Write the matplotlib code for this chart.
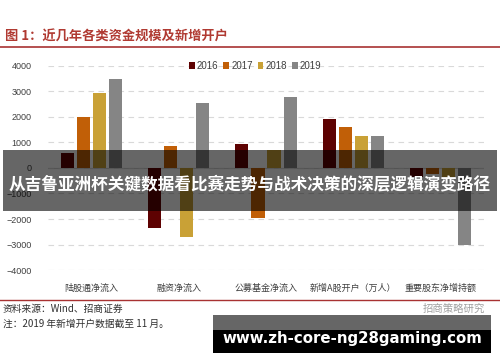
import numpy as np
import matplotlib
matplotlib.use('Agg')
import matplotlib.pyplot as plt
from matplotlib.patches import Rectangle
from matplotlib.lines import Line2D

plt.rcParams['font.family'] = ['Liberation Sans', 'Noto Sans CJK SC', 'DejaVu Sans']

# Data
categories = ['陆股通净流入', '融资净流入', '公募基金净流入', '新增A股开户（万人）', '重要股东净增持额']
years = ['2016', '2017', '2018', '2019']
v2016 = [600, -2350, 950, 1900, -350]
v2017 = [2000, 850, -1950, 1600, -250]
v2018 = [2950, -2700, 700, 1250, -350]
v2019 = [3500, 2550, 2800, 1250, -3000]
yticks = [-4000, -3000, -2000, -1000, 0, 1000, 2000, 3000, 4000]

colors = ['#5e0202', '#c15f07', '#c9a136', '#858585']
series = [v2016, v2017, v2018, v2019]

fig = plt.figure(figsize=(5, 3.62), dpi=100)
ax = fig.add_axes([0.096, 0.254, 0.872, 0.564])

x = np.arange(len(categories))
w = 0.15
step = 0.184
for i, (vals, c, yr) in enumerate(zip(series, colors, years)):
    ax.bar(x + (i - 1.5) * step, vals, width=w, color=c, label=yr, zorder=3)

ax.set_xlim(-0.5, 4.5)
ax.set_ylim(-4000, 4000)
ax.set_yticks(yticks)
ax.set_yticklabels(['−4000', '−3000', '−2000', '−1000', '0', '1000', '2000', '3000', '4000'])
ax.yaxis.grid(True, linestyle=(0, (5, 4)), color='#d9d9d9', linewidth=0.8, zorder=0)
ax.axhline(0, color='#d0d0d0', linewidth=0.8, zorder=1)
for s in ax.spines.values():
    s.set_visible(False)
ax.tick_params(axis='both', length=0, labelsize=6.5, colors='#404040')
ax.tick_params(axis='y', pad=12)
ax.set_xticks(x)
ax.set_xticklabels(categories, fontsize=6.5, color='#404040', family=['Noto Sans CJK SC', 'DejaVu Sans'])
ax.tick_params(axis='x', pad=10)

leg = ax.legend(loc='center', bbox_to_anchor=(0.475, 1.0), ncol=4, fontsize=7,
                frameon=False, handlelength=0.6, handleheight=0.6, handletextpad=0.2,
                columnspacing=0.5, borderpad=0.2)
for t in leg.get_texts():
    t.set_color('#404040')

# title and rules
fig.text(0.01, 1 - 37 / 362, '图 1：近几年各类资金规模及新增开户', fontsize=9.5, fontweight='bold',
         color='#b03a32', va='center', family=['Noto Sans CJK SC', 'DejaVu Sans'])
fig.add_artist(Line2D([0, 1], [1 - 47 / 362] * 2, color='#a83232', linewidth=1.2))
fig.add_artist(Line2D([0, 1], [1 - 300 / 362] * 2, color='#a83232', linewidth=1.0))

fig.text(0.006, 1 - 309 / 362, '资料来源：Wind、招商证券', fontsize=7, color='#303030', va='center',
         family=['Noto Sans CJK SC', 'DejaVu Sans'])
fig.text(0.006, 1 - 324 / 362, '注：2019 年新增开户数据截至 11 月。', fontsize=7, color='#303030', va='center',
         family=['Noto Sans CJK SC', 'DejaVu Sans'])
fig.text(0.97, 1 - 309 / 362, '招商策略研究', fontsize=7.5, color='#a0a0a0', va='center', ha='right',
         family=['Noto Sans CJK SC', 'DejaVu Sans'])

# overlay band with headline
fig.add_artist(Rectangle((0.006, 1 - 211 / 362), 0.988, 61 / 362, transform=fig.transFigure,
                         facecolor='black', alpha=0.6, edgecolor='none', zorder=10))
fig.text(0.5, 1 - 184 / 362, '从吉鲁亚洲杯关键数据看比赛走势与战术决策的深层逻辑演变路径',
         fontsize=12, fontweight='bold', color='white', ha='center', va='center', zorder=11,
         family=['Noto Sans CJK SC', 'DejaVu Sans'])

# bottom banner
fig.add_artist(Rectangle((213 / 500, 1 - 353 / 362), 278 / 500, 38 / 362, transform=fig.transFigure,
                         facecolor='black', edgecolor='none', zorder=10))
fig.add_artist(Rectangle((213 / 500, 1 - 330 / 362), 278 / 500, 15 / 362, transform=fig.transFigure,
                         facecolor='#666666', edgecolor='none', zorder=10))
fig.text(352 / 500, 1 - 339 / 362, 'www.zh-core-ng28gaming.com', fontsize=10.8, fontweight='bold',
         color='white', ha='center', va='center', zorder=11, family='DejaVu Sans')

fig.savefig('out.png', dpi=100)
